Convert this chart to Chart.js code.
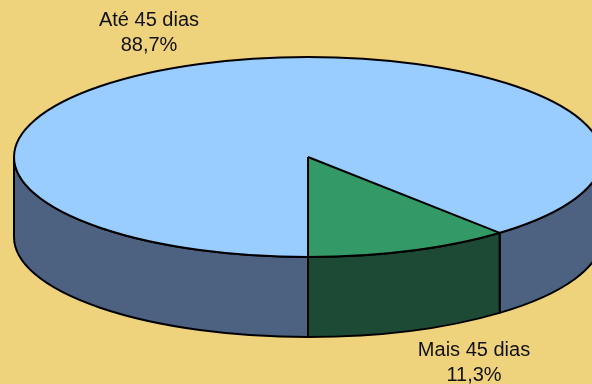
<!DOCTYPE html>
<html lang="pt">
<head>
<meta charset="UTF-8" />
<title>Prazo de atendimento</title>
<style>
  html, body { margin: 0; padding: 0; background: #EFD27C; }
  #pie { display: block; }
</style>
</head>
<body>
<canvas id="pie" width="592" height="384"></canvas>
<script src="https://cdn.jsdelivr.net/npm/chart.js"></script>
<script>
  // data
  const categories = ['Até 45 dias', 'Mais 45 dias'];
  const shares = [88.7, 11.3];

  // palette: top face / side wall for each slice
  const topColors = ['#99CCFF', '#339966'];
  const sideColors = ['#4D6280', '#1C4A34'];

  // disc geometry (ellipse radii and thickness)
  const RX = 294, RY = 100, DEPTH = 80;
  // label anchors (alphabetic baseline of the first line)
  const labelSpots = [{ x: 149, y: 26 }, { x: 474, y: 356 }];

  // parts of [s, e] lying on the front (lower) half of the ellipse
  function frontSpans(s, e) {
    const out = [];
    const TWO_PI = Math.PI * 2;
    for (let k = Math.floor(s / TWO_PI) - 1; k <= Math.ceil(e / TWO_PI); k++) {
      const a = Math.max(s, k * TWO_PI), b = Math.min(e, k * TWO_PI + Math.PI);
      if (b > a) out.push([a, b]);
    }
    return out;
  }

  const pie3d = {
    id: 'pie3d',
    beforeDatasetsDraw(chart) {
      const ctx = chart.ctx;
      const arcs = chart.getDatasetMeta(0).data;
      const cx = arcs[0].x, cy = arcs[0].y, r = arcs[0].outerRadius;
      ctx.save();
      ctx.lineWidth = 2;
      ctx.strokeStyle = '#000';
      ctx.lineJoin = 'round';
      arcs.forEach((arc, i) => {
        frontSpans(arc.startAngle, arc.endAngle).forEach(([a, b]) => {
          ctx.beginPath();
          ctx.ellipse(cx, cy, RX, RY, 0, a, b);
          ctx.ellipse(cx, cy + DEPTH, RX, RY, 0, b, a, true);
          ctx.closePath();
          ctx.fillStyle = sideColors[i];
          ctx.fill();
          ctx.stroke();
        });
      });
      ctx.restore();
      // squash the library's circular pie into the top ellipse
      ctx.save();
      ctx.translate(cx, cy);
      ctx.scale(RX / r, RY / r);
      ctx.translate(-cx, -cy);
    },
    afterDatasetsDraw(chart) {
      const ctx = chart.ctx;
      ctx.restore();
      const arcs = chart.getDatasetMeta(0).data;
      const cx = arcs[0].x, cy = arcs[0].y;
      ctx.save();
      ctx.lineWidth = 2;
      ctx.strokeStyle = '#000';
      ctx.lineJoin = 'round';
      ctx.beginPath();
      ctx.ellipse(cx, cy, RX, RY, 0, 0, Math.PI * 2);
      ctx.stroke();
      arcs.forEach(arc => {
        ctx.beginPath();
        ctx.moveTo(cx, cy);
        ctx.lineTo(cx + RX * Math.cos(arc.startAngle), cy + RY * Math.sin(arc.startAngle));
        ctx.stroke();
      });

      ctx.fillStyle = '#111';
      ctx.font = '20px "Liberation Sans", Arial, sans-serif';
      ctx.textAlign = 'center';
      ctx.textBaseline = 'alphabetic';
      const values = chart.data.datasets[0].data;
      chart.data.labels.forEach((lab, i) => {
        const p = labelSpots[i];
        ctx.fillText(lab, p.x, p.y);
        ctx.fillText(values[i].toFixed(1).replace('.', ',') + '%', p.x, p.y + 25);
      });
      ctx.restore();
    }
  };

  new Chart(document.getElementById('pie').getContext('2d'), {
    type: 'pie',
    data: {
      labels: categories,
      datasets: [{
        data: shares,
        backgroundColor: topColors,
        borderWidth: 0,
        clip: false
      }]
    },
    options: {
      responsive: false,
      animation: false,
      events: [],
      rotation: 180,
      layout: { padding: { left: 24, right: 0, top: 0, bottom: 70 } },
      plugins: {
        legend: { display: false },
        tooltip: { enabled: false }
      }
    },
    plugins: [pie3d]
  });
</script>
</body>
</html>
